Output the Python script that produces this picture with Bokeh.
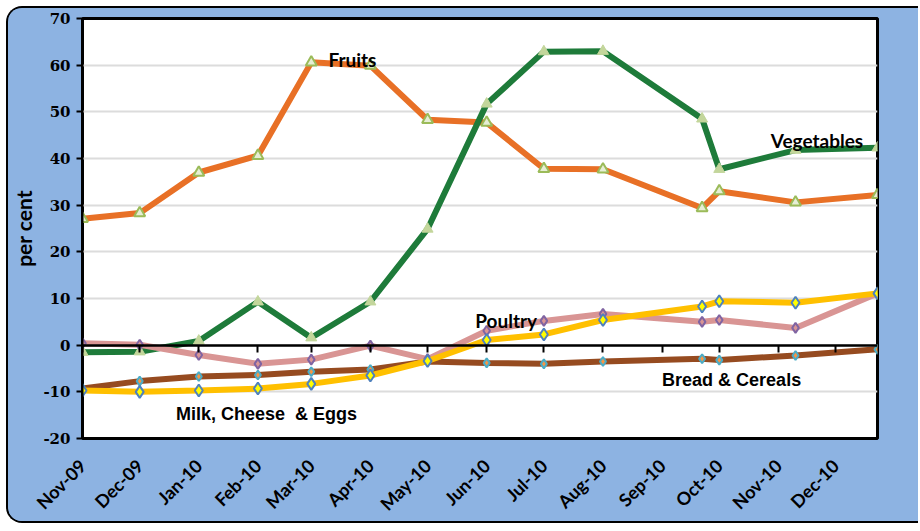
import math
import pandas as pd
from bokeh.plotting import figure
from bokeh.models import Range1d, FixedTicker, DatetimeAxis, DatetimeTickFormatter, Label
from bokeh.embed import file_html
from bokeh.resources import INLINE

# ---- data ----
dates = ["2009-11-01", "2009-12-01", "2010-01-01", "2010-02-01", "2010-03-01", "2010-04-01",
         "2010-05-01", "2010-06-01", "2010-07-01", "2010-08-01", "2010-09-22", "2010-10-01",
         "2010-11-10", "2010-12-23"]
fruits = [27.1, 28.3, 37.0, 40.6, 60.6, 59.9, 48.3, 47.7, 37.8, 37.7, 29.4, 33.0, 30.6, 32.2]
vegetables = [-1.5, -1.4, 0.9, 9.3, 1.6, 9.3, 24.9, 51.7, 62.9, 63.0, 48.5, 37.7, 41.8, 42.3]
poultry = [0.4, 0.1, -2.1, -4.0, -3.1, -0.1, -3.0, 3.1, 5.2, 6.7, 5.0, 5.4, 3.7, 11.1]
milk = [-9.7, -10.0, -9.7, -9.3, -8.3, -6.5, -3.4, 1.1, 2.3, 5.4, 8.3, 9.4, 9.1, 11.1]
bread = [-9.3, -7.7, -6.7, -6.4, -5.7, -5.2, -3.5, -3.8, -4.0, -3.5, -2.9, -3.2, -2.2, -0.9]
tick_months = ["2009-11-01", "2009-12-01", "2010-01-01", "2010-02-01", "2010-03-01",
               "2010-04-01", "2010-05-01", "2010-06-01", "2010-07-01", "2010-08-01",
               "2010-09-01", "2010-10-01", "2010-11-01", "2010-12-01"]
y_ticks = [-20, -10, 0, 10, 20, 30, 40, 50, 60, 70]

x = pd.to_datetime(dates)
tick_ms = [pd.Timestamp(t).value / 1e6 for t in tick_months]

BLUE_BG = "#8DB3E2"
TICK_FONT = "Lato"

p = figure(width=912, height=517, x_axis_type="datetime",
           x_range=Range1d(x[0], x[-1]), y_range=Range1d(-20, 70),
           output_backend="svg", toolbar_location=None,
           min_border_left=72, min_border_top=10, min_border_right=43, min_border_bottom=85)
p.styles = {"border-top": "2px solid black", "border-left": "2px solid black",
            "border-bottom": "2px solid black",
            "border-top-left-radius": "16px", "border-bottom-left-radius": "16px",
            "overflow": "hidden", "margin-top": "6px", "margin-left": "6px",
            "background-color": BLUE_BG}
p.background_fill_color = "white"
p.border_fill_color = BLUE_BG
p.outline_line_color = "black"
p.outline_line_width = 3

# grid
p.xgrid.grid_line_color = None
p.ygrid.ticker = FixedTicker(ticks=y_ticks)
p.ygrid.grid_line_color = "#dcdcdc"
p.ygrid.grid_line_width = 2

# y axis
ya = p.yaxis[0]
ya.ticker = FixedTicker(ticks=y_ticks)
ya.major_label_overrides = {t: str(t) for t in y_ticks}
ya.axis_line_color = "black"
ya.axis_line_width = 2
ya.major_tick_out = 6
ya.major_tick_in = 0
ya.major_tick_line_width = 2
ya.minor_tick_line_color = None
ya.major_label_text_font = "DejaVu Serif"
ya.major_label_text_font_style = "bold"
ya.major_label_text_font_size = "15px"
ya.major_label_text_color = "black"
ya.major_label_standoff = 6
ya.axis_label = "per cent"
ya.axis_label_text_font = TICK_FONT
ya.axis_label_text_font_style = "bold"
ya.axis_label_text_font_size = "21px"
ya.axis_label_text_color = "black"
ya.axis_label_standoff = 4

# main x axis (labels only)
fmt = DatetimeTickFormatter(days="%b-%y", months="%b-%y", years="%b-%y")
xa = p.xaxis[0]
xa.ticker = FixedTicker(ticks=tick_ms)
xa.formatter = fmt
xa.axis_line_color = None
xa.major_tick_line_color = None
xa.minor_tick_line_color = None
xa.major_label_orientation = math.pi / 4
xa.major_label_standoff = 18
xa.major_label_text_font = TICK_FONT
xa.major_label_text_font_style = "bold"
xa.major_label_text_font_size = "18px"
xa.major_label_text_color = "black"

# axis crossing at y = 0
zero_axis = DatetimeAxis(ticker=FixedTicker(ticks=tick_ms), formatter=fmt, fixed_location=0,
                         axis_line_color="black", axis_line_width=2.5,
                         major_tick_out=7, major_tick_in=0, major_tick_line_width=2,
                         minor_tick_line_color=None, major_label_text_color=None,
                         major_label_text_font_size="8px", major_label_standoff=0)
p.add_layout(zero_axis, "below")

# series
p.line(x, fruits, line_color="#E87026", line_width=6)
p.scatter(x, fruits, marker="triangle", size=11, fill_color="#E6EED5",
          line_color="#9BBB59", line_width=2)

p.line(x, vegetables, line_color="#1E7B3A", line_width=6)
p.scatter(x, vegetables, marker="triangle", size=11, fill_color="#C3D69B",
          line_color="#C3D69B", line_width=1)

p.line(x, bread, line_color="#964B20", line_width=6)
p.scatter(x, bread, marker="diamond", size=9, fill_color="#F79646",
          line_color="#4BACC6", line_width=2)

p.line(x, poultry, line_color="#D99594", line_width=6)
p.scatter(x, poultry, marker="diamond", size=10, fill_color="#D99594",
          line_color="#8064A2", line_width=2)

p.line(x, milk, line_color="#FFC000", line_width=6)
p.scatter(x, milk, marker="diamond", size=12, fill_color="#FFFF00",
          line_color="#4F81BD", line_width=2)

# series labels
def ms(d):
    return pd.Timestamp(d).value / 1e6

for txt, d, yv, font, size in [
    ("Fruits", "2010-03-10", 61.3, TICK_FONT, "19px"),
    ("Vegetables", "2010-10-28", 43.9, TICK_FONT, "19px"),
    ("Poultry", "2010-05-26", 5.2, TICK_FONT, "19px"),
    ("Milk, Cheese\u00a0 & Eggs", "2009-12-20", -14.8, "Liberation Sans", "18px"),
    ("Bread & Cereals", "2010-09-01", -7.5, "Liberation Sans", "18px"),
]:
    p.add_layout(Label(x=ms(d), y=yv, text=txt, text_font=font, text_font_size=size,
                       text_font_style="bold", text_color="black",
                       text_baseline="alphabetic", text_align="left"))

open("out.html", "w").write(file_html(p, INLINE))
